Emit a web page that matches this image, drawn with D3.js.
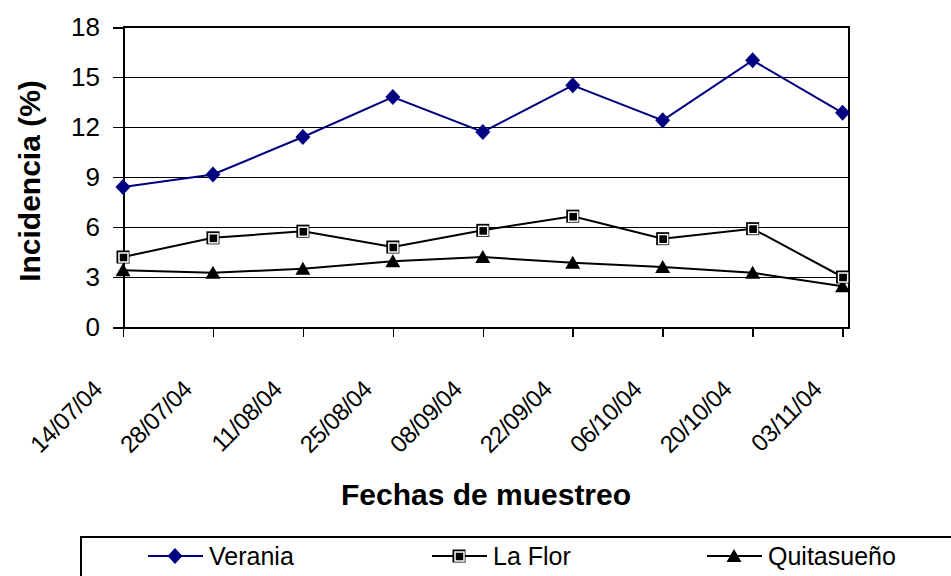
<!DOCTYPE html>
<html>
<head>
<meta charset="utf-8">
<script src="https://cdn.jsdelivr.net/npm/d3@7"></script>
<style>
  body { margin: 0; background: #fff; }
  svg { display: block; font-family: "Liberation Sans", Arial, sans-serif; }
</style>
</head>
<body>
<div id="chart"></div>
<script>
// sampling dates and incidence (%) per site
const fechas = ["14/07/04", "28/07/04", "11/08/04", "25/08/04", "08/09/04",
                "22/09/04", "06/10/04", "20/10/04", "03/11/04"];
const verania = [8.4, 9.15, 11.4, 13.8, 11.7, 14.5, 12.4, 16.0, 12.85];
const laFlor = [4.2, 5.35, 5.75, 4.8, 5.8, 6.65, 5.3, 5.9, 3.0];
const quitasueno = [3.4, 3.25, 3.5, 3.95, 4.2, 3.85, 3.6, 3.25, 2.45];
const yTicks = [0, 3, 6, 9, 12, 15, 18];
const seriesNames = ["Verania", "La Flor", "Quitasueño"];

const parse = d3.timeParse("%d/%m/%y");
const fmt = d3.timeFormat("%d/%m/%y");
const dates = fechas.map(parse);

const margin = { top: 27, right: 102, bottom: 249, left: 123 };
const W = 951, H = 576;
const width = W - margin.left - margin.right;
const height = H - margin.top - margin.bottom;

const svg = d3.select("#chart").append("svg")
  .attr("width", W)
  .attr("height", H);

const g = svg.append("g")
  .attr("transform", `translate(${margin.left},${margin.top})`);

// axis end is one day past the last sample, as in the original
const xScale = d3.scaleTime()
  .domain([dates[0], d3.timeDay.offset(dates[dates.length - 1], 1)])
  .range([0, width]);

const yScale = d3.scaleLinear()
  .domain([0, 18])
  .range([height, 0]);

// gridlines
g.selectAll(".grid").data(yTicks.filter(d => d > 0 && d < 18))
  .join("line")
  .attr("class", "grid")
  .attr("x1", 0).attr("x2", width)
  .attr("y1", d => yScale(d)).attr("y2", d => yScale(d))
  .attr("stroke", "#000").attr("stroke-width", 1)
  .attr("shape-rendering", "crispEdges");

// plot frame top + right
g.append("path")
  .attr("d", `M0,0H${width}V${height}`)
  .attr("fill", "none").attr("stroke", "#000").attr("stroke-width", 2)
  .attr("shape-rendering", "crispEdges");

const yAxis = g.append("g")
  .call(d3.axisLeft(yScale).tickValues(yTicks).tickSize(10).tickPadding(13));
yAxis.select(".domain").attr("stroke-width", 2).attr("shape-rendering", "crispEdges");
yAxis.selectAll(".tick line").attr("stroke-width", 1.5).attr("shape-rendering", "crispEdges");
yAxis.selectAll("text")
  .attr("font-size", 26).attr("font-family", "Liberation Sans, Arial, sans-serif")
  .attr("fill", "#000");

const xAxis = g.append("g")
  .attr("transform", `translate(0,${height})`)
  .call(d3.axisBottom(xScale).tickValues(dates).tickFormat(fmt).tickSize(10).tickSizeOuter(0));
xAxis.select(".domain").attr("stroke-width", 2).attr("shape-rendering", "crispEdges");
xAxis.selectAll(".tick line").attr("stroke-width", 1.5).attr("shape-rendering", "crispEdges");
xAxis.selectAll("text")
  .attr("font-size", 24).attr("font-family", "Liberation Sans, Arial, sans-serif")
  .attr("fill", "#000")
  .attr("x", 0).attr("y", 0).attr("dy", 0)
  .attr("text-anchor", "end")
  .attr("letter-spacing", -0.5)
  .attr("transform", "translate(-20,64) rotate(-45)");

// axis titles
svg.append("text")
  .attr("transform", "translate(40,181) rotate(-90)")
  .attr("text-anchor", "middle")
  .attr("font-size", 30).attr("font-weight", "bold")
  .text("Incidencia (%)");

svg.append("text")
  .attr("x", margin.left + width / 2).attr("y", 505)
  .attr("text-anchor", "middle")
  .attr("font-size", 30).attr("font-weight", "bold")
  .text("Fechas de muestreo");

// markers
function drawMarker(sel, type, color) {
  if (type === "diamond") {
    sel.append("path").attr("d", "M0,-8L7.5,0L0,8L-7.5,0Z").attr("fill", color);
  } else if (type === "square") {
    sel.append("rect").attr("x", -6.5).attr("y", -6.5).attr("width", 13).attr("height", 13).attr("fill", "#000");
    sel.append("rect").attr("x", -4).attr("y", -4).attr("width", 9).attr("height", 9)
      .attr("fill", "none").attr("stroke", "#fff").attr("stroke-width", 1.5);
    sel.append("rect").attr("x", -3).attr("y", -3).attr("width", 7).attr("height", 7).attr("fill", "#000");
  } else {
    sel.append("path").attr("d", "M0,-7L7.5,6L-7.5,6Z").attr("fill", "#000");
  }
}

const series = [
  { name: seriesNames[0], values: verania, color: "#000080", marker: "diamond" },
  { name: seriesNames[1], values: laFlor, color: "#000", marker: "square" },
  { name: seriesNames[2], values: quitasueno, color: "#000", marker: "triangle" }
];

const line = d3.line()
  .x((d, i) => xScale(dates[i]))
  .y(d => yScale(d));

series.slice().reverse().forEach(s => {
  g.append("path")
    .datum(s.values)
    .attr("d", line)
    .attr("fill", "none")
    .attr("stroke", s.color)
    .attr("stroke-width", 2);
  g.selectAll(null).data(s.values)
    .join("g")
    .attr("transform", (d, i) => `translate(${xScale(dates[i])},${yScale(d)})`)
    .each(function () { drawMarker(d3.select(this), s.marker, s.color); });
});

// legend
const legend = svg.append("g");
legend.append("rect")
  .attr("x", 81).attr("y", 537)
  .attr("width", 900).attr("height", 80)
  .attr("fill", "#fff").attr("stroke", "#000").attr("stroke-width", 2)
  .attr("shape-rendering", "crispEdges");

const legendX = [148, 432, 707];
series.forEach((s, i) => {
  const item = legend.append("g").attr("transform", `translate(${legendX[i]},556)`);
  item.append("line").attr("x1", 0).attr("x2", 55)
    .attr("stroke", s.color).attr("stroke-width", 2);
  drawMarker(item.append("g").attr("transform", "translate(27,0)"), s.marker, s.color);
  item.append("text")
    .attr("x", 61).attr("dy", "0.36em")
    .attr("font-size", 25)
    .text(s.name);
});
</script>
</body>
</html>
